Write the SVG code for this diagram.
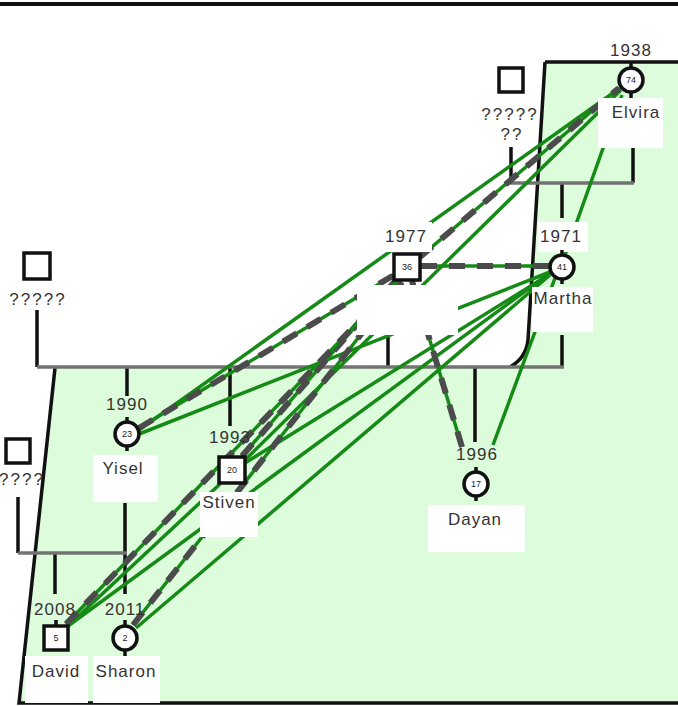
<svg xmlns="http://www.w3.org/2000/svg" width="678" height="706" viewBox="0 0 678 706">
<style>
.t{font-family:"Liberation Sans",Arial,sans-serif;font-size:17px;fill:#333;text-anchor:middle;letter-spacing:1px}
.q{letter-spacing:2px}
.n{font-family:"Liberation Sans",Arial,sans-serif;font-size:9px;fill:#222;text-anchor:middle}
.blk{stroke:#111;stroke-width:3.5;fill:none}
.gry{stroke:#737373;stroke-width:3.5;fill:none}
.g{stroke:#168a16;stroke-width:3.5;fill:none}
.d{stroke:#4b4b4b;stroke-width:6;stroke-dasharray:16 12;fill:none}
.box{fill:#fff}
.sq{fill:#fff;stroke:#111;stroke-width:3.5}
.ci{fill:#fff;stroke:#111;stroke-width:3.5}
</style>
<rect width="678" height="706" fill="#fff"/>
<path d="M545,62 L678,62 L678,703 L19,703 L55,368 L510,367 Q526,358 528,340 Z" fill="#dcfcdc"/>
<path class="blk" d="M545,62 L678,62 M545,62 L528,340 Q526,358 510,367 M55,368 L19,703 L678,703"/>
<rect x="0" y="2" width="678" height="4" fill="#111"/>
<g id="family">
<path class="blk" d="M511,147 V183 M633,148 V183 M562,183 V218"/>
<path class="gry" d="M510,183 H634"/>
<path class="blk" d="M37,310 V367 M388,335 V367 M562,335 V367 M127,367 V396 M230,367 V426 M475,367 V442"/>
<path class="gry" d="M37,367 H564"/>
<path class="blk" d="M18,497 V553 M125,503 V553 M55,553 V594 M125,553 V594"/>
<path class="gry" d="M18,553 H127"/>
</g>
<g id="connectors">
<line class="g" x1="139" y1="430" x2="620" y2="88"/>
<line class="g" x1="139" y1="434" x2="550" y2="272"/>
<line class="g" x1="245" y1="460" x2="621" y2="90"/>
<line class="g" x1="245" y1="463" x2="550" y2="274"/>
<line class="g" x1="68" y1="626" x2="550" y2="273"/>
<line class="g" x1="136" y1="628" x2="550" y2="275"/>
<line class="g" x1="70" y1="624" x2="220" y2="484"/>
<line class="g" x1="493" y1="445" x2="555" y2="278"/>
<line class="g" x1="622" y1="95" x2="565" y2="255"/>
<line class="g" x1="421" y1="266" x2="549" y2="266"/>
<line class="d" x1="421" y1="266" x2="549" y2="266"/>
<line class="g" x1="420" y1="257" x2="619" y2="88"/>
<line class="d" x1="420" y1="257" x2="619" y2="88"/>
<line class="g" x1="139" y1="428" x2="394" y2="275"/>
<line class="d" x1="139" y1="428" x2="394" y2="275"/>
<line class="g" x1="242" y1="456" x2="396" y2="280"/>
<line class="d" x1="242" y1="456" x2="396" y2="280"/>
<line class="g" x1="66" y1="624" x2="398" y2="281"/>
<line class="d" x1="66" y1="624" x2="398" y2="281"/>
<line class="g" x1="133" y1="625" x2="402" y2="282"/>
<line class="d" x1="133" y1="625" x2="402" y2="282"/>
<line class="g" x1="462" y1="447" x2="412" y2="281"/>
<line class="d" x1="462" y1="447" x2="412" y2="281"/>
</g>
<g id="boxes">
<rect class="box" x="598" y="98" width="65" height="50"/>
<rect class="box" x="532" y="287" width="61" height="45"/>
<rect class="box" x="357" y="285" width="101" height="50"/>
<rect class="box" x="380" y="222" width="52" height="30"/>
<rect class="box" x="538" y="222" width="50" height="30"/>
<rect class="box" x="93" y="455" width="65" height="47"/>
<rect class="box" x="200" y="492" width="58" height="45"/>
<rect class="box" x="428" y="505" width="97" height="47"/>
<rect class="box" x="25" y="656" width="63" height="47"/>
<rect class="box" x="93" y="656" width="67" height="47"/>
</g>
<g id="n-unknown-top">
<rect class="sq" x="499" y="68" width="24" height="24"/>
<text class="t q" x="510" y="120">?????</text>
<text class="t q" x="512" y="140">??</text>
</g>
<g id="n-elvira">
<path class="blk" d="M631,63 V70 M631,92 V98"/>
<circle class="ci" cx="631" cy="80" r="12"/>
<text class="n" x="631" y="83">74</text>
<text class="t" x="631" y="56">1938</text>
<text class="t" x="636" y="118">Elvira</text>
</g>
<g id="n-1977">
<rect class="sq" x="394" y="254" width="26" height="26"/>
<text class="n" x="407" y="270">36</text>
<text class="t" x="406" y="242">1977</text>
</g>
<g id="n-martha">
<path class="blk" d="M562,250 V256 M562,278 V284"/>
<circle class="ci" cx="562" cy="267" r="12"/>
<text class="n" x="562" y="270">41</text>
<text class="t" x="561" y="242">1971</text>
<text class="t" x="563" y="304">Martha</text>
</g>
<g id="n-unknown-left">
<rect class="sq" x="24" y="253" width="26" height="26"/>
<text class="t q" x="38" y="305">?????</text>
</g>
<g id="n-yisel">
<path class="blk" d="M127,417 V423 M127,445 V451"/>
<circle class="ci" cx="127" cy="434" r="12"/>
<text class="n" x="127" y="437">23</text>
<text class="t" x="127" y="410">1990</text>
<text class="t" x="123" y="474">Yisel</text>
</g>
<g id="n-stiven">
<rect class="sq" x="219" y="457" width="26" height="26"/>
<text class="n" x="232" y="473">20</text>
<text class="t" x="230" y="443">1993</text>
<text class="t" x="229" y="508">Stiven</text>
</g>
<g id="n-dayan">
<path class="blk" d="M476,467 V473 M476,495 V501"/>
<circle class="ci" cx="476" cy="484" r="12"/>
<text class="n" x="476" y="487">17</text>
<text class="t" x="477" y="460">1996</text>
<text class="t" x="475" y="525">Dayan</text>
</g>
<g id="n-unknown-bl">
<rect class="sq" x="6" y="439" width="24" height="24"/>
<text class="t q" x="22" y="485">????</text>
</g>
<g id="n-david">
<path class="blk" d="M56,620 V626"/>
<rect class="sq" x="44" y="626" width="24" height="24"/>
<text class="n" x="56" y="641">5</text>
<text class="t" x="55" y="615">2008</text>
<text class="t" x="56" y="677">David</text>
</g>
<g id="n-sharon">
<path class="blk" d="M125,620 V626 M125,650 V656"/>
<circle class="ci" cx="125" cy="638" r="12"/>
<text class="n" x="125" y="641">2</text>
<text class="t" x="125" y="615">2011</text>
<text class="t" x="126" y="677">Sharon</text>
</g>
</svg>
